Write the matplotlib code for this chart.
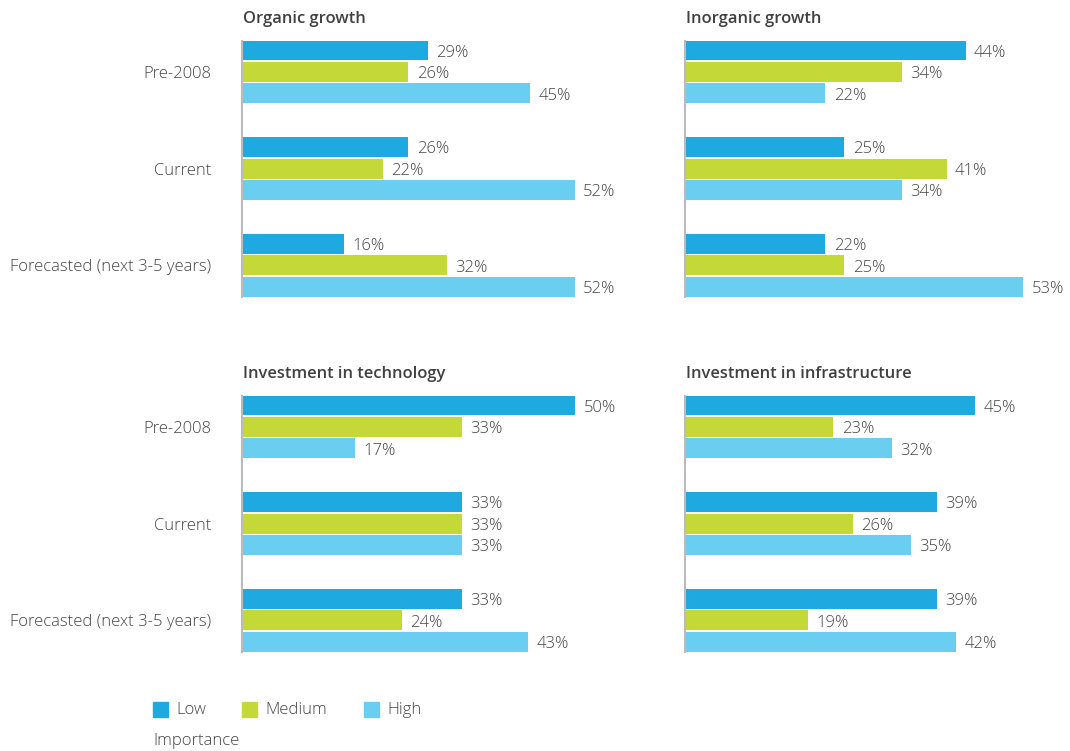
import matplotlib
matplotlib.use("Agg")
import matplotlib.pyplot as plt
from matplotlib.patches import Rectangle

plt.rcParams['font.family'] = ['Open Sans', 'DejaVu Sans']

periods = ["Pre-2008", "Current", "Forecasted (next 3-5 years)"]
levels = ["Low", "Medium", "High"]
colors = ["#1EA9E1", "#C4D838", "#6ACEF0"]

titles = ["Organic growth", "Inorganic growth", "Investment in technology", "Investment in infrastructure"]
# values[panel][period] = [Low, Medium, High]
organic = [[29, 26, 45], [26, 22, 52], [16, 32, 52]]
inorganic = [[44, 34, 22], [25, 41, 34], [22, 25, 53]]
technology = [[50, 33, 17], [33, 33, 33], [33, 24, 43]]
infrastructure = [[45, 23, 32], [39, 26, 35], [39, 19, 42]]
panels = [organic, inorganic, technology, infrastructure]

W, H = 1070, 751
fig = plt.figure(figsize=(W / 100, H / 100), dpi=100)

text_col = "#454545"
title_col = "#404040"

# pixel boxes: (left, top, width, height)
boxes = [(242, 41, 384, 256), (685, 41, 384, 256),
         (242, 396, 384, 256), (685, 396, 384, 256)]
xmaxes = [60, 60.2, 57.7, 59.5]

pitch = 0.223
bh = 0.207
for i, (data, title, box, xm) in enumerate(zip(panels, titles, boxes, xmaxes)):
    l, t, w, h = box
    ax = fig.add_axes([l / W, 1 - (t + h) / H, w / W, h / H])
    ax.set_xlim(0, xm)
    ax.set_ylim(2.33, -0.32)
    for g, vals in enumerate(data):
        for k, v in enumerate(vals):
            y = g + (k - 1) * pitch
            ax.barh(y, v, height=bh, color=colors[k], edgecolor='none')
            ax.text(v + 1.3, y + 0.025, f"{v}%", va='center', ha='left',
                    fontsize=12, fontweight='light', color=text_col)
    for s in ['top', 'right', 'bottom']:
        ax.spines[s].set_visible(False)
    ax.spines['left'].set_color('#BBBBBB')
    ax.spines['left'].set_linewidth(1.5)
    ax.set_xticks([])
    ax.tick_params(axis='y', length=0, pad=22)
    ax.set_yticks(range(len(periods)))
    if i % 2 == 0:
        ax.set_yticklabels(periods, fontsize=12, fontweight='light', color=text_col)
    else:
        ax.set_yticklabels([])
    ax.set_facecolor('none')
    fig.text((l + 1) / W, 1 - (t - 22) / H, title, ha='left', va='center',
             fontsize=11.9, fontweight='semibold', color=title_col)

# legend
lx = [153, 242, 364]
for k, lab in enumerate(levels):
    fig.patches.append(Rectangle((lx[k] / W, 1 - 717 / H), 15 / W, 15 / H,
                                 transform=fig.transFigure, color=colors[k]))
    fig.text((lx[k] + 23) / W, 1 - 710 / H, lab, ha='left', va='center',
             fontsize=12, fontweight='light', color=text_col)
fig.text(153 / W, 1 - 741 / H, "Importance", ha='left', va='center',
         fontsize=12, fontweight='light', color=text_col)

fig.savefig("out.png", dpi=100, facecolor='white')
